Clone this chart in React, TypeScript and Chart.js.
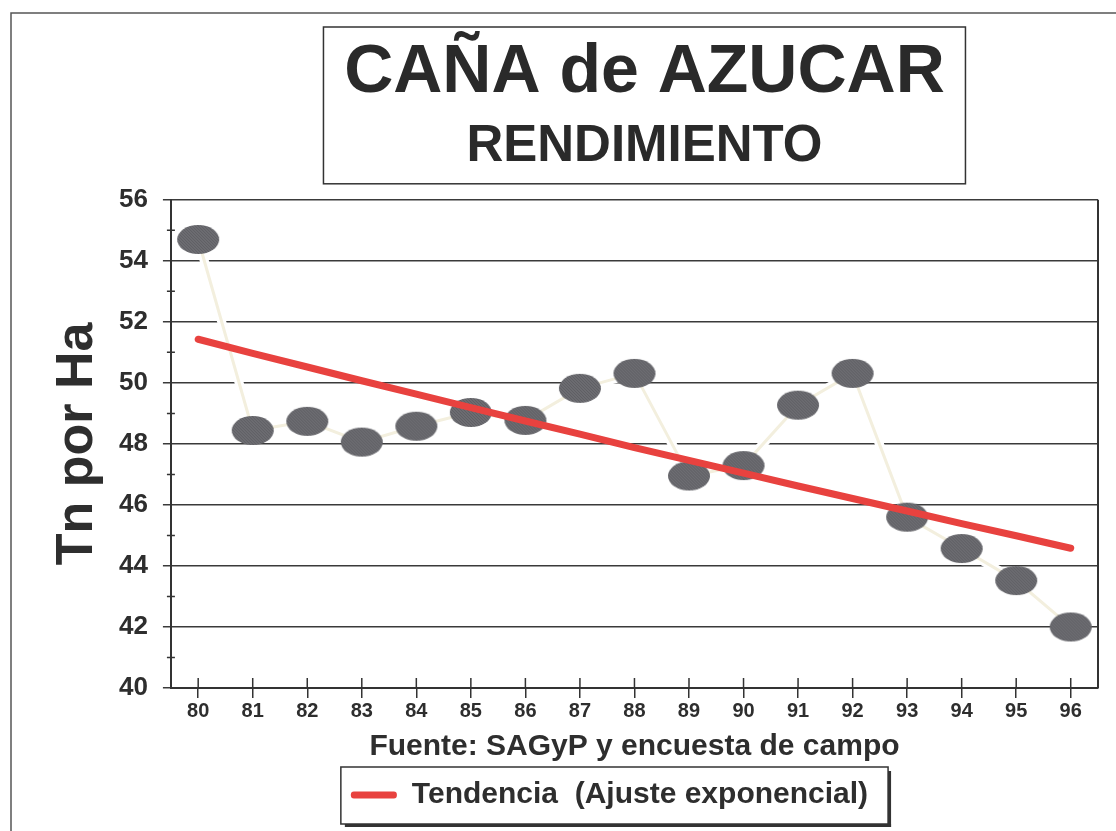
import React, { useEffect, useRef } from 'react';
import { Chart, registerables } from 'chart.js';

Chart.register(...registerables);

// ---- data ----
const years = ['80', '81', '82', '83', '84', '85', '86', '87', '88', '89', '90', '91', '92', '93', '94', '95', '96'];
const rendimiento = [54.7, 48.44, 48.74, 48.06, 48.58, 49.03, 48.77, 49.82, 50.31, 46.95, 47.29, 49.27, 50.31, 45.6, 44.57, 43.52, 42.0];
const tendencia = [51.43, 50.97, 50.52, 50.07, 49.63, 49.19, 48.75, 48.32, 47.88, 47.46, 47.04, 46.62, 46.21, 45.8, 45.39, 44.99, 44.58];
const yMin = 40;
const yMax = 56;
const yStep = 2;
const yMinorValues = [41, 43, 45, 47, 49, 51, 53, 55];

const TITLE = 'CAÑA de AZUCAR';
const SUBTITLE = 'RENDIMIENTO';
const Y_TITLE = 'Tn por Ha';
const X_TITLE = 'Fuente: SAGyP y encuesta de campo';
const LEGEND_TEXT = 'Tendencia  (Ajuste exponencial)';

const FONT = "'Liberation Sans', Arial, Helvetica, sans-serif";
const TEXT = '#2e2e2e';
const LINE = '#333333';
const RED = '#e8423f';

function makeMarker(): HTMLCanvasElement {
  const c = document.createElement('canvas');
  c.width = 44;
  c.height = 31;
  const g = c.getContext('2d')!;
  g.beginPath();
  g.ellipse(22, 15.5, 21, 14.5, 0, 0, Math.PI * 2);
  g.fillStyle = '#6d6d72';
  g.fill();
  g.save();
  g.clip();
  g.strokeStyle = 'rgba(35,35,40,0.22)';
  g.lineWidth = 1;
  for (let i = -40; i < 60; i += 3) {
    g.beginPath();
    g.moveTo(i, 0);
    g.lineTo(i + 31, 31);
    g.stroke();
  }
  g.restore();
  return c;
}

const decor = {
  id: 'decor',
  afterLayout(chart: any) {
    for (const b of chart.boxes) {
      const t = b.options && b.options.text;
      if (t === TITLE || t === SUBTITLE) {
        b.left += 10;
        b.right += 10;
      }
      if (b === chart.legend) {
        b.left -= 25;
        b.right -= 25;
      }
    }
  },
  afterDraw(chart: any) {
    const ctx = chart.ctx as CanvasRenderingContext2D;
    const area = chart.chartArea;
    ctx.save();
    // outer frame
    ctx.strokeStyle = '#555';
    ctx.lineWidth = 1.5;
    ctx.beginPath();
    ctx.moveTo(11, chart.height);
    ctx.lineTo(11, 13);
    ctx.lineTo(chart.width, 13);
    ctx.stroke();

    // title frame
    const tb = chart.titleBlock;
    let sub: any = null;
    for (const b of chart.boxes) {
      if (b.options && b.options.text === SUBTITLE) sub = b;
    }
    if (tb && sub) {
      const cx = (tb.left + tb.right) / 2;
      ctx.strokeStyle = LINE;
      ctx.lineWidth = 1.5;
      ctx.strokeRect(cx - 321, tb.top + 27, 642, sub.bottom - 16 - (tb.top + 27));
    }

    // plot right border
    ctx.strokeStyle = LINE;
    ctx.lineWidth = 2;
    ctx.beginPath();
    ctx.moveTo(area.right, area.top);
    ctx.lineTo(area.right, area.bottom);
    ctx.stroke();

    // inner x ticks
    const xs = chart.scales.x;
    ctx.lineWidth = 1.5;
    ctx.beginPath();
    for (let i = 0; i < years.length; i++) {
      const px = xs.getPixelForTick(i);
      ctx.moveTo(px, area.bottom - 10);
      ctx.lineTo(px, area.bottom);
    }
    ctx.stroke();

    // minor y ticks
    const ys = chart.scales.y;
    ctx.beginPath();
    for (const v of yMinorValues) {
      const py = ys.getPixelForValue(v);
      ctx.moveTo(area.left - 4, py);
      ctx.lineTo(area.left + 4, py);
    }
    ctx.stroke();

    // legend frame
    const lg = chart.legend;
    if (lg && lg.legendHitBoxes && lg.legendHitBoxes.length) {
      const hb = lg.legendHitBoxes[0];
      const cy = hb.top + hb.height / 2;
      const x0 = hb.left - 10;
      const x1 = hb.left + hb.width + 20;
      const y0 = cy - 28;
      const y1 = cy + 29;
      ctx.strokeStyle = LINE;
      ctx.lineWidth = 1.5;
      ctx.strokeRect(x0, y0, x1 - x0, y1 - y0);
      ctx.fillStyle = LINE;
      ctx.fillRect(x1, y0 + 4, 3, y1 - y0 - 1);
      ctx.fillRect(x0 + 4, y1, x1 - x0 - 1, 3);
    }
    ctx.restore();
  },
};

export default function App() {
  const ref = useRef<HTMLCanvasElement | null>(null);
  useEffect(() => {
    if (!ref.current) return;
    const marker = makeMarker();
    const chart = new Chart(ref.current, {
      type: 'line',
      data: {
        labels: years,
        datasets: [
          {
            label: LEGEND_TEXT,
            data: tendencia,
            borderColor: RED,
            backgroundColor: RED,
            borderWidth: 7,
            borderCapStyle: 'round',
            pointRadius: 0,
            tension: 0,
            order: 0,
          },
          {
            label: 'Rendimiento',
            data: rendimiento,
            borderColor: '#f3efde',
            backgroundColor: '#6d6d72',
            borderWidth: 3,
            pointStyle: marker as any,
            pointRadius: 15,
            tension: 0,
            order: 1,
          },
          {
            label: 'halo',
            data: rendimiento,
            borderColor: '#ffffff',
            borderWidth: 9,
            pointRadius: 0,
            tension: 0,
            order: 2,
          },
        ],
      },
      options: {
        responsive: false,
        animation: false,
        events: [],
        layout: { padding: { top: 0, left: 0, right: 18, bottom: 11 } },
        scales: {
          x: {
            type: 'category',
            offset: true,
            grid: {
              display: true,
              drawOnChartArea: false,
              drawTicks: true,
              tickLength: 10,
              color: LINE,
              lineWidth: 1.5,
              offset: false,
            },
            border: { display: true, color: LINE, width: 2 },
            ticks: {
              font: { family: FONT, size: 20, weight: 'bold' },
              color: TEXT,
              padding: 1,
              maxRotation: 0,
              autoSkip: false,
            },
            title: {
              display: true,
              text: X_TITLE,
              font: { family: FONT, size: 30, weight: 'bold' },
              color: TEXT,
              padding: { top: 5, bottom: 0 },
            },
          },
          y: {
            min: yMin,
            max: yMax,
            grid: {
              color: '#3a3a3a',
              lineWidth: 1.5,
              drawTicks: true,
              tickLength: 8,
            },
            border: { display: true, color: LINE, width: 2 },
            ticks: {
              stepSize: yStep,
              font: { family: FONT, size: 26, weight: 'bold' },
              color: TEXT,
              padding: 15,
            },
            title: {
              display: true,
              text: Y_TITLE,
              font: { family: FONT, size: 52, weight: 'bold', lineHeight: 1 },
              color: TEXT,
              padding: { top: 52, bottom: 0 },
            },
          },
        },
        plugins: {
          tooltip: { enabled: false },
          title: {
            display: true,
            text: TITLE,
            fullSize: false,
            font: { family: FONT, size: 68, weight: 'bold' },
            color: '#2a2a2a',
            padding: { top: 32, bottom: 3 },
          },
          subtitle: {
            display: true,
            text: SUBTITLE,
            fullSize: false,
            font: { family: FONT, size: 51, weight: 'bold' },
            color: '#2a2a2a',
            padding: { top: 0, bottom: 22 },
          },
          legend: {
            display: true,
            position: 'bottom',
            fullSize: false,
            labels: {
              font: { family: FONT, size: 30, weight: 'bold' },
              color: TEXT,
              boxWidth: 46,
              boxHeight: 7,
              padding: 15,
              useBorderRadius: true,
              borderRadius: 3,
              generateLabels: () => [
                {
                  text: LEGEND_TEXT,
                  fillStyle: RED,
                  strokeStyle: RED,
                  lineWidth: 0,
                  hidden: false,
                  datasetIndex: 0,
                  fontColor: TEXT,
                  borderRadius: 3,
                } as any,
              ],
            },
          },
        },
      },
      plugins: [decor],
    } as any);
    return () => chart.destroy();
  }, []);

  return (
    <div style={{ position: 'absolute', left: 0, top: 0, width: 1116, height: 831, background: '#fff' }}>
      <canvas ref={ref} width={1116} height={831} style={{ display: 'block' }} />
    </div>
  );
}
